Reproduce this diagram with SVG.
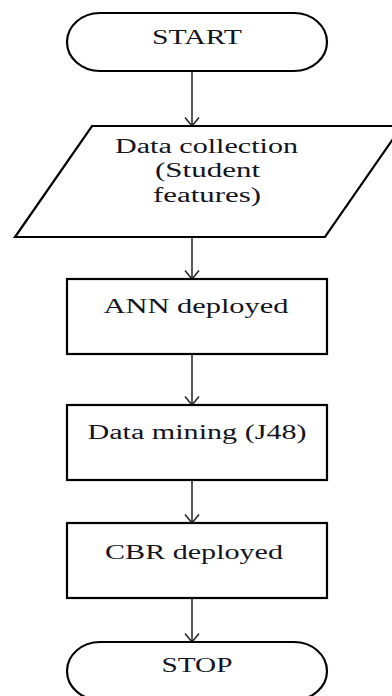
<svg xmlns="http://www.w3.org/2000/svg" width="392" height="696" viewBox="0 0 392 696">
  <style>
    .shape { fill: #ffffff; stroke: #000000; stroke-width: 2.2; }
    .label { font-family: "Liberation Serif", "Times New Roman", serif; font-size: 20px; fill: #141420; text-anchor: middle; }
    .link { stroke: #222222; stroke-width: 1.5; fill: none; marker-end: url(#openArrow); }
  </style>
  <defs>
    <!-- open V arrowhead, tip along +x so orient="auto" follows the line -->
    <marker id="openArrow" viewBox="0 0 10 16" refX="9.5" refY="8" markerWidth="10" markerHeight="16" markerUnits="userSpaceOnUse" orient="auto">
      <path d="M1,1 L9.5,8 L1,15" fill="none" stroke="#222222" stroke-width="1.5"/>
    </marker>
  </defs>
  <rect width="392" height="696" fill="#ffffff"/>

  <g id="connectors">
    <line class="link" x1="192" y1="71" x2="192" y2="126"/>
    <line class="link" x1="192" y1="237" x2="192" y2="279"/>
    <line class="link" x1="192" y1="354" x2="192" y2="405"/>
    <line class="link" x1="192" y1="480" x2="192" y2="523"/>
    <line class="link" x1="192" y1="598" x2="192" y2="642"/>
  </g>

  <g id="start">
    <rect class="shape" x="67" y="13" width="260" height="58" rx="33" ry="29"/>
    <text class="label" x="197" y="44" textLength="90" lengthAdjust="spacingAndGlyphs">START</text>
  </g>

  <g id="data-collection">
    <polygon class="shape" points="92,126 402,126 325,237 15,237"/>
    <text class="label" x="206.5" y="153" textLength="183" lengthAdjust="spacingAndGlyphs">Data collection</text>
    <text class="label" x="207.5" y="177" textLength="105" lengthAdjust="spacingAndGlyphs">(Student</text>
    <text class="label" x="207" y="201.5" textLength="108" lengthAdjust="spacingAndGlyphs">features)</text>
  </g>

  <g id="ann">
    <rect class="shape" x="67" y="279" width="260" height="75"/>
    <text class="label" x="196" y="313" textLength="185" lengthAdjust="spacingAndGlyphs">ANN deployed</text>
  </g>

  <g id="data-mining">
    <rect class="shape" x="67" y="405" width="260" height="75"/>
    <text class="label" x="197" y="439" textLength="219" lengthAdjust="spacingAndGlyphs">Data mining (J48)</text>
  </g>

  <g id="cbr">
    <rect class="shape" x="67" y="523" width="260" height="75"/>
    <text class="label" x="194" y="559" textLength="178" lengthAdjust="spacingAndGlyphs">CBR deployed</text>
  </g>

  <g id="stop">
    <rect class="shape" x="67" y="642" width="260" height="58" rx="33" ry="29"/>
    <text class="label" x="197" y="672" textLength="71" lengthAdjust="spacingAndGlyphs">STOP</text>
  </g>
</svg>
